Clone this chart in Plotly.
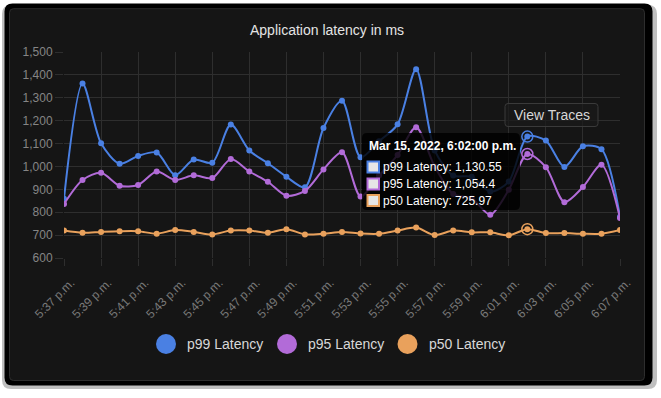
import plotly.graph_objects as go
import pandas as pd

# ---------------- data ----------------
times = pd.date_range("2022-03-15 17:37", "2022-03-15 18:07", freq="1min")
p99 = [859, 1362, 1101, 1012, 1046, 1061, 962, 1030, 1016, 1183, 1070, 1014, 955, 909, 1168, 1287,
       1040, 1110, 1184, 1425, 1070, 960, 955, 890, 934, 1130.55, 1113, 998, 1088, 1075, 780]
p95 = [836, 941, 972, 916, 919, 978, 941, 961, 949, 1032, 978, 933, 872, 893, 987, 1062,
       869, 960, 1050, 1171, 1000, 880, 860, 789, 898, 1054.4, 997, 844, 910, 1007, 775]
p50 = [720, 710, 714, 717, 717, 706, 722, 714, 703, 720, 720, 710, 726, 703, 706, 714,
       707, 706, 720, 733, 700, 720, 712, 712, 699, 725.97, 709, 709, 706, 706, 722]
series_names = ["p99 Latency", "p95 Latency", "p50 Latency"]
tick_times = times[::2]
tick_labels = [t.strftime("%-I:%M") + " p.m." for t in tick_times]
y_ticks = list(range(600, 1501, 100))
y_tick_labels = [f"{v:,}" for v in y_ticks]
hover_index = 25
tooltip_title = "Mar 15, 2022, 6:02:00 p.m."

colors = ["#4a80e3", "#b26bd8", "#e9a15c"]
FONT = "Liberation Sans, Arial, sans-serif"

# ---------------- layout geometry (pixels) ----------------
W, H = 661, 398
L, R, T, B = 64, 620, 52, 258
PW, PH = R - L, B - T


def px(x):
    return (x - L) / PW


def py(y):
    return (B - y) / PH


def rrect(x0, y0, x1, y1, r):
    rx, ry = r / PW, r / PH
    X0, X1, Y0, Y1 = px(x0), px(x1), py(y0), py(y1)  # Y0 top, Y1 bottom
    return (f"M {X0+rx},{Y0} L {X1-rx},{Y0} Q {X1},{Y0} {X1},{Y0-ry} "
            f"L {X1},{Y1+ry} Q {X1},{Y1} {X1-rx},{Y1} L {X0+rx},{Y1} "
            f"Q {X0},{Y1} {X0},{Y1+ry} L {X0},{Y0-ry} Q {X0},{Y0} {X0+rx},{Y0} Z")


fig = go.Figure()
for name, vals, c in zip(series_names, [p99, p95, p50], colors):
    fig.add_trace(go.Scatter(
        x=times, y=vals, name=name, mode="lines+markers",
        line=dict(color=c, width=2, shape="spline", smoothing=0.8),
        marker=dict(color=c, size=6), showlegend=False, hoverinfo="skip"))
for vals, c in zip([p99, p95, p50], colors):
    fig.add_trace(go.Scatter(
        x=[times[hover_index]], y=[vals[hover_index]], mode="markers",
        marker=dict(symbol="circle-open", size=11, color=c, line=dict(width=1.5, color=c)),
        showlegend=False, hoverinfo="skip"))

shapes = []
# outer black frame and card
shapes.append(dict(type="path", path=rrect(2, 5, 657, 389, 9), xref="paper", yref="paper",
                   fillcolor="rgba(0,0,0,0.25)", line=dict(width=0), layer="below"))
shapes.append(dict(type="path", path=rrect(4.5, 3.5, 652.5, 385.5, 8), xref="paper", yref="paper",
                   fillcolor="#000000", line=dict(width=0), layer="below"))
shapes.append(dict(type="path", path=rrect(9.5, 8.7, 644.5, 380.5, 4), xref="paper", yref="paper",
                   fillcolor="#151515", line=dict(color="#2d2d2d", width=1), layer="below"))
# View Traces button
shapes.append(dict(type="path", path=rrect(505, 103.5, 598, 126.5, 3), xref="paper", yref="paper",
                   fillcolor="rgba(25,25,25,0.7)", line=dict(color="#3a3a3a", width=1), layer="above"))
# tooltip
shapes.append(dict(type="path", path=rrect(362, 133, 520, 210, 5), xref="paper", yref="paper",
                   fillcolor="rgba(0,0,0,0.82)", line=dict(width=0), layer="above"))
row_y = [167, 184, 200.5]
for yy, c in zip(row_y, colors):
    shapes.append(dict(type="rect", xref="paper", yref="paper",
                       x0=px(367.5), x1=px(379), y0=py(yy - 5.5), y1=py(yy + 5.5),
                       fillcolor="#e6e6e6", line=dict(color=c, width=2), layer="above"))
# legend circles
legend_cx = [166, 287, 407.5]
legend_cy = 344
for cx, c in zip(legend_cx, colors):
    shapes.append(dict(type="circle", xref="paper", yref="paper",
                       x0=px(cx - 10), x1=px(cx + 10), y0=py(legend_cy + 10), y1=py(legend_cy - 10),
                       fillcolor=c, line=dict(width=0), layer="above"))

annotations = []
annotations.append(dict(text="Application latency in ms", xref="paper", yref="paper",
                        x=px(326.5), y=py(30), xanchor="center", yanchor="middle", showarrow=False,
                        font=dict(family=FONT, size=14, color="#e4e4e4")))
annotations.append(dict(text="View Traces", xref="paper", yref="paper",
                        x=px(551.5), y=py(115), xanchor="center", yanchor="middle", showarrow=False,
                        font=dict(family=FONT, size=14, color="#d6d6d6")))
annotations.append(dict(text=f"<b>{tooltip_title}</b>", xref="paper", yref="paper",
                        x=px(367), y=py(146), xanchor="left", yanchor="middle", showarrow=False,
                        font=dict(family=FONT, size=12, color="#ffffff")))
for yy, name, vals in zip(row_y, series_names, [p99, p95, p50]):
    v = vals[hover_index]
    vtxt = f"{v:,.2f}".rstrip("0").rstrip(".")
    annotations.append(dict(text=f"{name}: {vtxt}", xref="paper", yref="paper",
                            x=px(380.5), y=py(yy), xanchor="left", yanchor="middle", showarrow=False,
                            font=dict(family=FONT, size=12, color="#ffffff")))
for cx, name in zip(legend_cx, series_names):
    annotations.append(dict(text=name, xref="paper", yref="paper",
                            x=px(cx + 19), y=py(legend_cy), xanchor="left", yanchor="middle",
                            showarrow=False, font=dict(family=FONT, size=14, color="#d8d8d8")))

fig.update_layout(
    width=W, height=H,
    margin=dict(l=L, r=W - R, t=T, b=H - B, pad=0),
    paper_bgcolor="#ffffff", plot_bgcolor="rgba(0,0,0,0)",
    font=dict(family=FONT, size=12, color="#858585"),
    shapes=shapes, annotations=annotations, hovermode=False, showlegend=False,
    xaxis=dict(range=[times[0], times[-1]], tickvals=tick_times, ticktext=tick_labels,
               tickangle=-45, showgrid=True, gridcolor="#2e2e2e", gridwidth=1,
               ticks="outside", ticklen=7, tickcolor="#2e2e2e", zeroline=False,
               showline=False, tickfont=dict(size=12, color="#7a7a7a"),
               ticklabelshift=7, ticklabelstandoff=5),
    yaxis=dict(range=[600, 1500], tickvals=y_ticks, ticktext=y_tick_labels,
               showgrid=True, gridcolor="#2e2e2e", gridwidth=1, ticks="outside", ticklen=8,
               tickcolor="#2e2e2e", zeroline=False, showline=False,
               tickfont=dict(size=12, color="#858585")),
)

fig.write_html("out.html", config=dict(displayModeBar=False),
               post_script="document.body.style.margin='0';document.body.style.overflow='hidden';")
